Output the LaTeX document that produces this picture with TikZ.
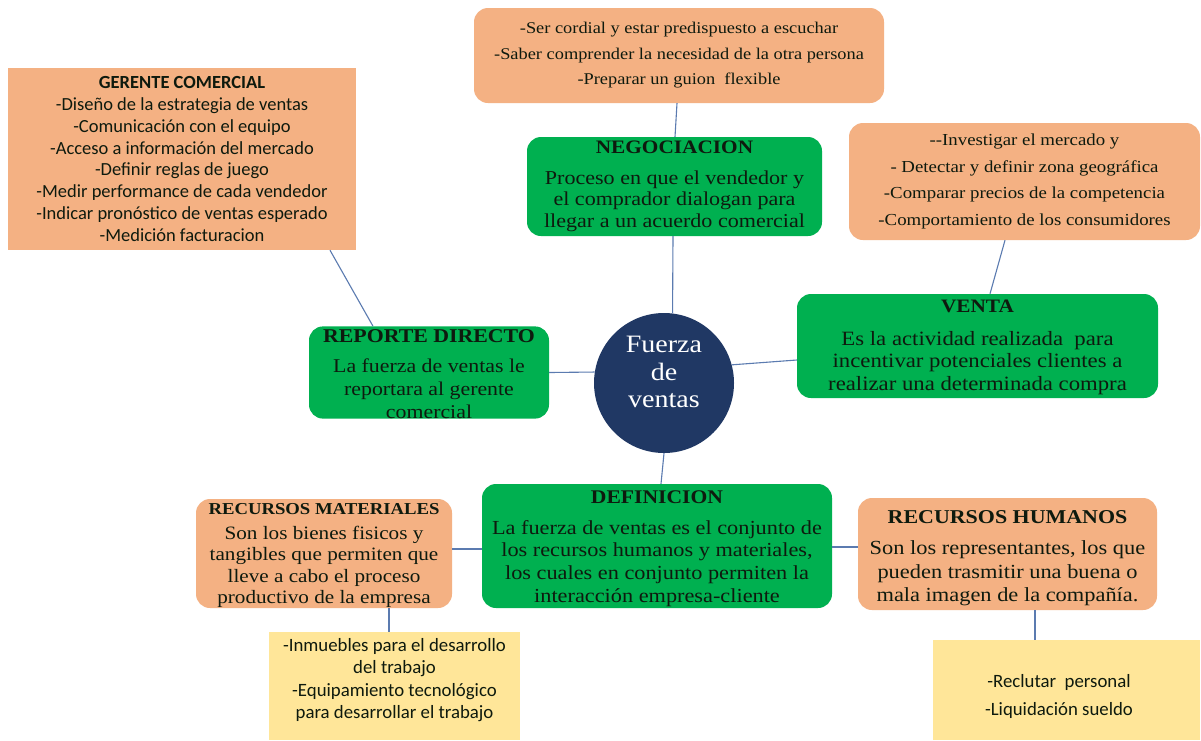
\documentclass[tikz,border=0pt]{standalone}
\usepackage{fontspec}
\setmainfont[FakeStretch=1.12]{Liberation Serif}
\newfontfamily\calib{Carlito}
\usetikzlibrary{calc}
\definecolor{orng}{HTML}{F4B183}
\definecolor{grn}{HTML}{00B050}
\definecolor{navy}{HTML}{203864}
\definecolor{yel}{HTML}{FFE699}
\definecolor{linec}{HTML}{5B7BB0}
\definecolor{dtxt}{HTML}{0E1A0E}
\newcommand{\ttl}[2]{{\bfseries\fontsize{#1}{#1}\selectfont #2}}
\begin{document}
\begin{tikzpicture}[x=1pt,y=-1pt,
  obox/.style={fill=orng, rounded corners=14pt, align=center, inner sep=0pt, text=dtxt},
  osq/.style={fill=orng, align=center, inner sep=0pt, text=dtxt},
  gbox/.style={fill=grn, rounded corners=14pt, align=center, inner sep=0pt, text=dtxt},
  ybox/.style={fill=yel, align=center, inner sep=0pt, text=dtxt},
  plain/.style={align=center, inner sep=0pt, text=dtxt},
  link/.style={draw=linec, line width=1.1pt},
  sz/.style 2 args={minimum width=#1pt, minimum height=#2pt}]
\useasboundingbox (0,0) rectangle (1201,740);
\fill[white] (0,0) rectangle (1201,740);

% boxes
\node[osq, sz={348}{182}, font={\calib\fontsize{18.5}{21.8}\selectfont}] (ger) at (182,159)
 {{\bfseries GERENTE COMERCIAL}\\-Diseño de la estrategia de ventas\\-Comunicación con el equipo\\-Acceso a información del mercado\\-Definir reglas de juego\\-Medir performance de cada vendedor\\-Indicar pronóstico de ventas esperado\\-Medición facturacion};

\node[obox, sz={410}{95}, font={\fontsize{16.4}{25.5}\selectfont}] (top) at (679,55.5)
 {-Ser cordial y estar predispuesto a escuchar\\-Saber comprender la necesidad de la otra persona\\-Preparar un guion\ \ flexible};

\node[gbox, sz={295}{99}, font={\fontsize{19.7}{21.5}\selectfont}] (neg) at (674.5,186.5)
 {\ttl{19}{NEGOCIACION}\\[9pt]Proceso en que el vendedor y\\el comprador dialogan para\\llegar a un acuerdo comercial};

\node[obox, sz={351}{117}, font={\fontsize{16.8}{26.5}\selectfont}] (inv) at (1024.5,181.5)
 {-{}-Investigar el mercado y\\- Detectar y definir zona geográfica\\-Comparar precios de la competencia\\-Comportamiento de los consumidores};

\node[gbox, sz={361}{104}, font={\fontsize{20.3}{22.5}\selectfont}] (ven) at (977.5,346)
 {\rule{0pt}{15pt}\ttl{19}{VENTA}\\[10pt]Es la actividad realizada\ \ para\\incentivar potenciales clientes a\\realizar una determinada compra};

\node[circle, fill=navy, minimum size=140pt, inner sep=0pt] (circ) at (664,383) {};
\node[plain, text=white, font={\fontsize{25}{27.5}\selectfont}] (circt) at (664,372) {Fuerza\\de\\ventas};

\node[gbox, sz={240}{91}, font={\fontsize{19.5}{23}\selectfont}] (rep) at (429,372.5)
 {\rule{0pt}{16pt}\ttl{19.5}{REPORTE DIRECTO}\\[7pt]La fuerza de ventas le\\reportara al gerente\\comercial};

\node[gbox, sz={350}{124}, font={\fontsize{19.9}{22.7}\selectfont}] (def) at (657,546)
 {\rule{0pt}{18pt}\ttl{19.3}{DEFINICION}\\[8pt]La fuerza de ventas es el conjunto de\\los recursos humanos y materiales,\\los cuales en conjunto permiten la\\interacción empresa-cliente};

\node[obox, sz={256}{109}, font={\fontsize{18.9}{21.5}\selectfont}] (rm) at (324,553.5)
 {\rule{0pt}{15pt}\ttl{16.7}{RECURSOS MATERIALES}\\[3pt]Son los bienes fisicos y\\tangibles que permiten que\\lleve a cabo el proceso\\productivo de la empresa};

\node[obox, sz={299}{112}, font={\fontsize{20}{23.5}\selectfont}] (rh) at (1007.5,554)
 {\rule{0pt}{21pt}\ttl{19.6}{RECURSOS HUMANOS}\\[8pt]Son los representantes, los que\\pueden trasmitir una buena o\\mala imagen de la compañía.};

\node[ybox, sz={251}{108}] (yl) at (394.5,686) {};
\node[plain, font={\calib\fontsize{18.8}{22.3}\selectfont}] (ylt) at (394.5,680)
 {-Inmuebles para el desarrollo\\del trabajo\\-Equipamiento tecnológico\\para desarrollar el trabajo};

\node[ybox, sz={267}{100}] (yr) at (1066.5,690) {};
\node[plain, font={\calib\fontsize{18.8}{28}\selectfont}] (yrt) at (1059,696)
 {-Reclutar\ \ personal\\-Liquidación sueldo};

% connectors
\draw[link] ([xshift=148pt]ger.south) -- ([xshift=-56pt]rep.north);
\draw[link] ([xshift=-2pt]top.south) -- ([xshift=0.5pt]neg.north);
\draw[link] ([xshift=-1.5pt]neg.south) -- (circ.83);
\draw[link] ([xshift=-19.5pt]inv.south) -- ([xshift=12.5pt]ven.north);
\draw[link] (circ.15) -- ([yshift=-14pt]ven.west);
\draw[link] (rep.east) -- (circ.171);
\draw[link] (circ.south) -- ([xshift=4pt]def.north);
\draw[link] ([yshift=-3pt]def.west) -- ([yshift=4.5pt]rm.east);
\draw[link] ([yshift=-1pt]def.east) -- ([yshift=7pt]rh.west);
\draw[link] ([xshift=65pt]rm.south) -- ([xshift=-5.5pt]yl.north);
\draw[link] ([xshift=27.5pt]rh.south) -- ([xshift=-31.5pt]yr.north);
\end{tikzpicture}
\end{document}
